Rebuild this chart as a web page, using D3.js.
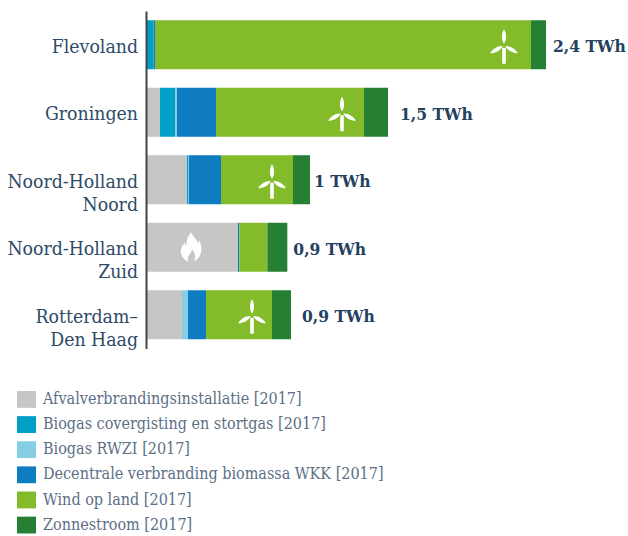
<!DOCTYPE html>
<html>
<head>
<meta charset="utf-8">
<script src="https://cdn.jsdelivr.net/npm/d3@7"></script>
<style>
  html, body { margin: 0; background: #fff; }
  text { font-family: "DejaVu Serif Condensed", "DejaVu Serif", serif; }
</style>
</head>
<body>
<div id="root"></div>
<script>
// values in TWh
const regions = ["Flevoland", "Groningen", "Noord-Holland|Noord", "Noord-Holland|Zuid", "Rotterdam–|Den Haag"];
const totals = ["2,4 TWh", "1,5 TWh", "1 TWh", "0,9 TWh", "0,9 TWh"];
const afval = [0, 0.084, 0.246, 0.552, 0.216];
const covergisting = [0.045, 0.09, 0.006, 0, 0];
const rwzi = [0, 0.012, 0.006, 0, 0.036];
const biomassa = [0.009, 0.234, 0.192, 0.008, 0.108];
const wind = [2.256, 0.888, 0.432, 0.168, 0.396];
const zon = [0.09, 0.144, 0.102, 0.12, 0.114];

const seriesNames = [
  "Afvalverbrandingsinstallatie [2017]",
  "Biogas covergisting en stortgas [2017]",
  "Biogas RWZI [2017]",
  "Decentrale verbranding biomassa WKK [2017]",
  "Wind op land [2017]",
  "Zonnestroom [2017]"
];
const seriesValues = [afval, covergisting, rwzi, biomassa, wind, zon];
const COLOR = ["#c6c6c6", "#00a0c6", "#85cee4", "#0f7cc2", "#84bb2a", "#268034"];

const width = 628, height = 536;
const axisX = 146;
const labelGap = [7, 12, 4, 6, 11];       // the gaps are not even in the original
const windIconShift = [-27, -22, -21, 0, -20];

const svg = d3.select("#root").append("svg")
  .attr("width", width)
  .attr("height", height)
  .style("display", "block");

const x = d3.scaleLinear().domain([0, 2.4]).range([axisX, 546]);
const y = d3.scaleBand().domain(regions).range([11, 348.5]).paddingInner(0.274).paddingOuter(0.137);

const rows = regions.map((r, i) => {
  const row = { region: r };
  seriesNames.forEach((s, j) => { row[s] = seriesValues[j][i]; });
  return row;
});
const stacked = d3.stack().keys(seriesNames)(rows);

// bars
svg.append("g")
  .selectAll("g")
  .data(stacked)
  .enter()
  .append("g")
  .attr("fill", (d, i) => COLOR[i])
  .selectAll("rect")
  .data(d => d)
  .enter()
  .append("rect")
  .attr("x", d => x(d[0]))
  .attr("y", d => y(d.data.region))
  .attr("width", d => x(d[1]) - x(d[0]))
  .attr("height", y.bandwidth());

// axis with the two line labels
const axis = svg.append("g")
  .attr("transform", `translate(${axisX},0)`)
  .call(d3.axisLeft(y).tickSize(0).tickSizeOuter(0).tickPadding(8));
axis.select(".domain").attr("stroke", "#444").attr("stroke-width", 2);
axis.selectAll("text").each(function (d) {
  const t = d3.select(this).text(null)
    .attr("fill", "#2e4a68")
    .style("font-size", "19.3px")
    .style("font-family", null);
  d.split("|").forEach((line, i) => {
    t.append("tspan")
      .attr("x", -8)
      .attr("y", 2 + i * 23)
      .attr("dy", "0.32em")
      .text(line);
  });
});

// totals
svg.append("g")
  .selectAll("text")
  .data(regions)
  .enter()
  .append("text")
  .attr("x", (d, i) => x(d3.sum(seriesValues, s => s[i])) + labelGap[i])
  .attr("y", d => y(d) + y.bandwidth() / 2 + 2)
  .attr("dy", "0.32em")
  .attr("fill", "#24405f")
  .style("font-size", "17.3px")
  .style("font-weight", "bold")
  .text((d, i) => totals[i]);

// wind turbine, drawn round its hub
const blade = "M0,-1.5 C-3,-6 -2.4,-12 0,-16 C2.4,-12 3,-6 0,-1.5 Z";
const windRows = stacked[4].filter((d, i) => wind[i] > 0.2);
const turbines = svg.append("g")
  .selectAll("g")
  .data(windRows)
  .enter()
  .append("g")
  .attr("fill", "#fff")
  .attr("transform", d => {
    const i = regions.indexOf(d.data.region);
    return `translate(${x(d[1]) + windIconShift[i]},${y(d.data.region) + 25})`;
  });
turbines.selectAll("path")
  .data([0, 120, 240])
  .enter()
  .append("path")
  .attr("d", blade)
  .attr("transform", a => `rotate(${a})`);
turbines.append("rect")
  .attr("x", -1.8).attr("y", 2.5)
  .attr("width", 3.6).attr("height", 16);

// flame in the grey part of Noord-Holland Zuid
const zuid = stacked[0][3];
svg.append("path")
  .attr("transform", `translate(${(x(zuid[0]) + x(zuid[1])) / 2 - 1},${y(zuid.data.region) + y.bandwidth() / 2})`)
  .attr("fill", "#fff")
  .attr("d", "M0,-15 C2,-10 6,-8 7,-4 C8,-6 8,-7 7.5,-8 C10,-4 11,0 10,5 C9,10 6,13 3,14 C5,10 4,5 1,2 C1,5 -2,7 -3,10 C-3.5,12 -3,13 -2,14.5 C-6,13.5 -9,10 -10,6 C-11,1 -8,-2 -6,-5 C-6,-3 -5.5,-2 -4.5,-1.5 C-5,-7 -3,-11 0,-15 Z");

// legend
const legendY = d3.scaleBand().domain(seriesNames).range([388.5, 536]).paddingInner(0.33).paddingOuter(0.1);
const legend = svg.append("g")
  .selectAll("g")
  .data(seriesNames)
  .enter()
  .append("g")
  .attr("transform", d => `translate(17,${legendY(d)})`);
legend.append("rect")
  .attr("width", 19)
  .attr("height", legendY.bandwidth())
  .attr("fill", (d, i) => COLOR[i]);
legend.append("text")
  .attr("x", 26)
  .attr("y", legendY.bandwidth() / 2 - 0.5)
  .attr("dy", "0.32em")
  .attr("fill", "#5c6f86")
  .style("font-size", "16px")
  .text(d => d);
</script>
</body>
</html>
